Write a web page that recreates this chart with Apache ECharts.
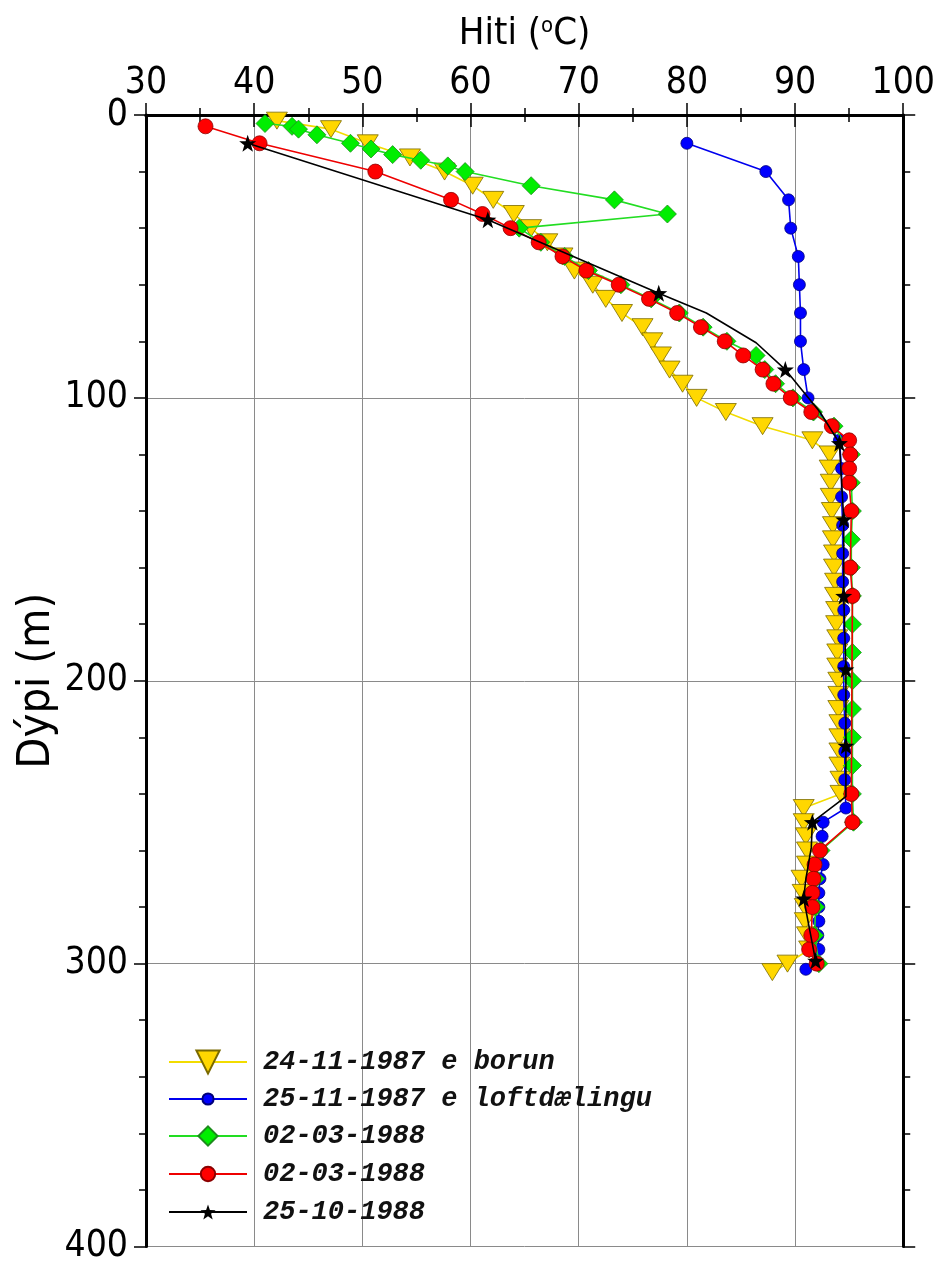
<!DOCTYPE html>
<html><head><meta charset="utf-8">
<script src="https://cdn.jsdelivr.net/npm/echarts@6/dist/echarts.min.js"></script>
<style>html,body{margin:0;padding:0;background:#fff}#c{width:938px;height:1265px}</style>
</head><body><div id="c"></div>
<script>
// ---------- data ----------
const xTicks = [30, 40, 50, 60, 70, 80, 90, 100];
const yTicks = [0, 100, 200, 300, 400];
const seriesNames = ['24-11-1987 e borun', '25-11-1987 e loftdælingu', '02-03-1988', '02-03-1988', '25-10-1988'];

const yellowDepth = [2, 5, 10, 15, 20, 25, 30, 35, 40, 45, 50, 55, 60, 65, 70, 75, 80, 85, 90, 95, 100, 105, 110, 115,
  120, 125, 130, 135, 140, 145, 150, 155, 160, 165, 170, 175, 180, 185, 190, 195, 200, 205, 210, 215, 220, 225, 230, 235, 240,
  245, 250, 255, 260, 265, 270, 275, 280, 285, 290, 295, 300, 303];
const yellowTemp = [42.1, 47.1, 50.5, 54.4, 57.6, 60.2, 62.1, 64.0, 65.6, 67.1, 68.5, 69.6, 71.3, 72.5, 74.0, 75.9, 76.8, 77.6, 78.4, 79.6, 80.9, 83.6, 87.0, 91.6,
  93.2, 93.2, 93.3, 93.3, 93.4, 93.5, 93.5, 93.6, 93.6, 93.7, 93.7, 93.8, 93.8, 93.9, 93.9, 93.9, 94.0, 94.0, 94.0, 94.1, 94.1, 94.1, 94.1, 94.2, 94.2,
  90.8, 90.8, 91.0, 91.1, 91.1, 90.6, 90.7, 90.9, 90.9, 91.1, 91.3, 89.3, 87.9];

const blueDepth = [10, 20, 30, 40, 50, 60, 70, 80, 90, 100, 115, 125, 135, 145, 155, 165, 175, 185, 195, 205, 215, 225, 235, 245,
  250, 255, 265, 270, 275, 280, 285, 290, 295, 300, 302];
const blueTemp = [80.0, 87.3, 89.4, 89.6, 90.3, 90.4, 90.5, 90.5, 90.8, 91.2, 94.1, 94.3, 94.3, 94.4, 94.4, 94.4, 94.5, 94.5, 94.5, 94.5, 94.6, 94.6, 94.6, 94.7,
  92.6, 92.5, 92.6, 92.3, 92.2, 92.2, 92.2, 92.1, 92.2, 92.0, 91.0];

const greenDepth = [3, 4, 5, 7, 10, 12, 14, 16, 18, 20, 25, 30, 35, 40, 45, 50, 55, 60, 65, 70, 75, 80, 85, 90, 95, 100, 105, 110,
  120, 130, 140, 150, 160, 170, 180, 190, 200, 210, 220, 230, 240, 250, 260, 270, 280, 290, 300];
const greenTemp = [41.0, 43.5, 44.1, 45.8, 48.9, 50.8, 52.8, 55.4, 57.9, 59.5, 65.6, 73.3, 78.2, 64.5, 66.5, 68.7, 70.9, 73.9, 76.7, 79.3, 81.5, 83.7, 86.4, 87.2, 88.2, 89.8, 91.7, 93.6,
  95.2, 95.2, 95.3, 95.2, 95.2, 95.3, 95.3, 95.3, 95.3, 95.3, 95.3, 95.3, 95.3, 95.4, 92.4, 91.9, 91.9, 91.8, 92.2];

const redDepth = [4, 10, 20, 30, 35, 40, 45, 50, 55, 60, 65, 70, 75, 80, 85, 90, 95, 100, 105, 110,
  115, 120, 125, 130, 140, 160, 170, 240, 250, 260, 265, 270, 275, 280, 290, 295, 300];
const redTemp = [35.5, 40.5, 51.2, 58.2, 61.1, 63.7, 66.3, 68.5, 70.7, 73.7, 76.5, 79.1, 81.3, 83.5, 85.2, 87.0, 88.0, 89.6, 91.5, 93.4,
  95.0, 95.1, 95.0, 95.0, 95.2, 95.1, 95.3, 95.2, 95.3, 92.3, 91.8, 91.7, 91.6, 91.6, 91.5, 91.3, 92.0];

const blackDepth = [10, 37, 63, 70, 80.5, 90, 97, 105, 116, 143, 170, 196, 223, 241, 250, 259, 270, 277, 299];
const blackTemp = [39.4, 61.6, 77.4, 81.8, 86.4, 89.1, 90.6, 92.3, 94.1, 94.5, 94.5, 94.7, 94.7, 94.7, 91.6, 91.5, 91.0, 90.8, 91.9];
const blackStar = [1, 1, 1, 0, 0, 1, 0, 0, 1, 1, 1, 1, 1, 0, 1, 0, 0, 1, 1];

// ---------- chart ----------
const STAR = 'path://M0,-10L2.35,-3.24L9.51,-3.09L3.8,1.24L5.88,8.09L0,4L-5.88,8.09L-3.8,1.24L-9.51,-3.09L-2.35,-3.24Z';
const AXFONT = "'Liberation Sans Narrow', 'DejaVu Sans Condensed', sans-serif";
const LEGFONT = "'Liberation Mono', 'DejaVu Sans Mono', monospace";

function pairs(t, d) { return t.map((v, i) => [v, d[i]]); }

const chart = echarts.init(document.getElementById('c'), null, { renderer: 'canvas' });

const baseAxisLine = { show: true, lineStyle: { color: '#000', width: 3 } };

const styles = [
  { color: '#ffd700', border: '#7a6a00', line: '#f2dc00', symbol: 'triangle', size: [21, 17], rot: 180, legSize: 29, legY: 1062 },
  { color: '#0000ff', border: '#00007a', line: '#0000ee', symbol: 'circle', size: 12, rot: 0, legSize: 14, legY: 1099 },
  { color: '#00ee00', border: '#1c8c1c', line: '#22dd22', symbol: 'diamond', size: 18, rot: 0, legSize: 24, legY: 1136 },
  { color: '#ff0000', border: '#8b0000', line: '#ee0000', symbol: 'circle', size: 15, rot: 0, legSize: 18, legY: 1174 },
  { color: '#000000', border: '#000000', line: '#000000', symbol: STAR, size: 17, rot: 0, legSize: 19, legY: 1212 }
];

const dataSets = [
  pairs(yellowTemp, yellowDepth),
  pairs(blueTemp, blueDepth),
  pairs(greenTemp, greenDepth),
  pairs(redTemp, redDepth),
  blackTemp.map((v, i) => blackStar[i] ? { value: [v, blackDepth[i]] } : { value: [v, blackDepth[i]], symbol: 'none' })
];

const series = dataSets.map((data, i) => ({
  name: 'S' + i,
  type: 'line',
  xAxisIndex: 0,
  yAxisIndex: 0,
  data: data,
  symbol: styles[i].symbol,
  symbolSize: styles[i].size,
  symbolRotate: styles[i].rot,
  showAllSymbol: true,
  lineStyle: { color: styles[i].line, width: 1.6 },
  itemStyle: { color: styles[i].color, borderColor: styles[i].border, borderWidth: i === 4 ? 0 : 0.8 },
  emphasis: { disabled: true },
  z: 3 + i
}));

const LEG_LH = 32;
const legends = styles.map((s, i) => ({
  show: true,
  orient: 'vertical',
  left: 168,
  top: s.legY - LEG_LH / 2,
  padding: 0,
  itemWidth: 78,
  itemHeight: s.legSize,
  data: [{ name: 'S' + i }],
  formatter: () => seriesNames[i],
  selectedMode: false,
  textStyle: { fontFamily: LEGFONT, fontStyle: 'italic', fontWeight: 'bold', fontSize: 27, lineHeight: LEG_LH, color: '#111', padding: [0, 0, 0, 11] }
}));

chart.setOption({
  animation: false,
  backgroundColor: '#fff',
  grid: { left: 146, right: 34, top: 115, bottom: 16, containLabel: false },
  legend: legends,
  xAxis: [
    {
      type: 'value', position: 'top', min: xTicks[0], max: xTicks[xTicks.length - 1], interval: 10,
      name: 'Hiti ({sup|o}C)', nameLocation: 'middle', nameGap: 62, nameMoveOverlap: false,
      nameTextStyle: { fontFamily: AXFONT, fontSize: 38, color: '#000', rich: { sup: { fontFamily: AXFONT, fontSize: 22, verticalAlign: 'top', padding: [0, 0, 16, 0] } } },
      axisLine: baseAxisLine,
      axisTick: { show: true, inside: false, length: 12, lineStyle: { color: '#000', width: 1.5 } },
      minorTick: { show: true, splitNumber: 2, length: 7, lineStyle: { color: '#000', width: 1.5 } },
      axisLabel: { show: true, margin: 13, fontFamily: AXFONT, fontSize: 37, color: '#000' },
      splitLine: { show: true, lineStyle: { color: '#8a8a8a', width: 1 } }
    },
    {
      type: 'value', position: 'bottom', min: xTicks[0], max: xTicks[xTicks.length - 1], interval: 10,
      axisLine: baseAxisLine,
      axisTick: { show: true, inside: false, length: 12, lineStyle: { color: '#000', width: 1.5 } },
      minorTick: { show: true, splitNumber: 2, length: 7, lineStyle: { color: '#000', width: 1.5 } },
      axisLabel: { show: false },
      splitLine: { show: false }
    }
  ],
  yAxis: [
    {
      type: 'value', position: 'left', inverse: true, min: yTicks[0], max: yTicks[yTicks.length - 1], interval: 100,
      name: 'Dýpi (m)', nameLocation: 'middle', nameGap: 86, nameRotate: 90, nameMoveOverlap: false,
      nameTextStyle: { fontFamily: AXFONT, fontSize: 45, color: '#000' },
      axisLine: baseAxisLine,
      axisTick: { show: true, inside: false, length: 12, lineStyle: { color: '#000', width: 1.5 } },
      minorTick: { show: true, splitNumber: 5, length: 7, lineStyle: { color: '#000', width: 1.5 } },
      axisLabel: { show: true, margin: 18, fontFamily: AXFONT, fontSize: 37, color: '#000' },
      splitLine: { show: true, lineStyle: { color: '#8a8a8a', width: 1 } }
    },
    {
      type: 'value', position: 'right', inverse: true, min: yTicks[0], max: yTicks[yTicks.length - 1], interval: 100,
      axisLine: baseAxisLine,
      axisTick: { show: true, inside: false, length: 12, lineStyle: { color: '#000', width: 1.5 } },
      minorTick: { show: true, splitNumber: 5, length: 7, lineStyle: { color: '#000', width: 1.5 } },
      axisLabel: { show: false },
      splitLine: { show: false }
    }
  ],
  series: series
});
</script>
</body></html>
